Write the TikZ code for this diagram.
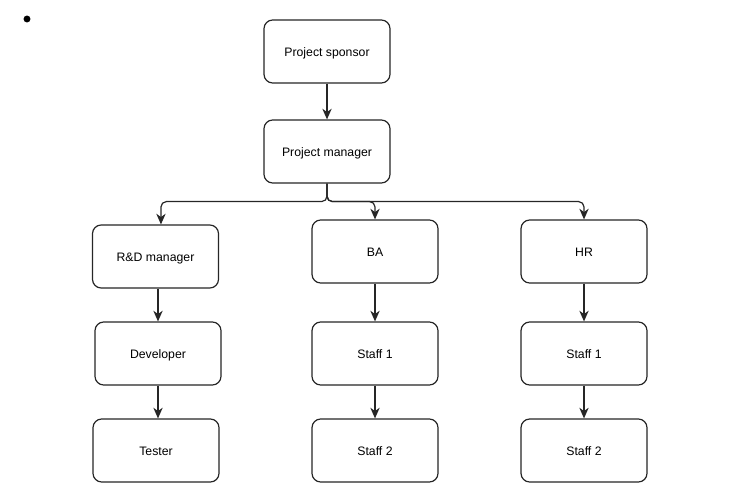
\documentclass[tikz,border=0pt]{standalone}
\usepackage{fontspec}
\setmainfont{Liberation Sans}
\usetikzlibrary{arrows.meta}
\begin{document}
\begin{tikzpicture}[x=0.75pt,y=-0.75pt,
  box/.style={draw=black!85, line width=0.9pt, rounded corners=6.5pt, minimum width=94.5pt, minimum height=47.25pt, inner sep=0pt, font=\fontsize{9.2}{11}\selectfont, fill=white, text height=6.8pt, text depth=0pt},
  conn/.style={draw=black!85, line width=0.9pt, rounded corners=4pt, -{Stealth[length=8pt,width=7pt,inset=2.5pt]}}]
\useasboundingbox (0,0) rectangle (739,499);
\fill (27,19) circle (2.6pt);
\node[box] (sp) at (327,51.5) {Project sponsor};
\node[box] (pm) at (327,151.5) {Project manager};
\node[box] (rd) at (155.5,256.5) {R\&D manager};
\node[box] (ba) at (375,251.5) {BA};
\node[box] (hr) at (584,251.5) {HR};
\node[box] (dev) at (158,353.5) {Developer};
\node[box] (bs1) at (375,353.5) {Staff 1};
\node[box] (hs1) at (584,353.5) {Staff 1};
\node[box] (tst) at (156,450.5) {Tester};
\node[box] (bs2) at (375,450.5) {Staff 2};
\node[box] (hs2) at (584,450.5) {Staff 2};
\draw[conn] (sp.south) -- (pm.north);
\draw[conn] (pm.south) -- ++(0,18) -| ([xshift=4.1pt]rd.north);
\draw[conn] (pm.south) -- ++(0,18) -| (ba.north);
\draw[conn] (pm.south) -- ++(0,18) -| (hr.north);
\draw[conn] (rd.south -| dev.north) -- (dev.north);
\draw[conn] (dev.south) -- (dev.south |- tst.north);
\draw[conn] (ba.south) -- (bs1.north);
\draw[conn] (bs1.south) -- (bs2.north);
\draw[conn] (hr.south) -- (hs1.north);
\draw[conn] (hs1.south) -- (hs2.north);
\end{tikzpicture}
\end{document}
